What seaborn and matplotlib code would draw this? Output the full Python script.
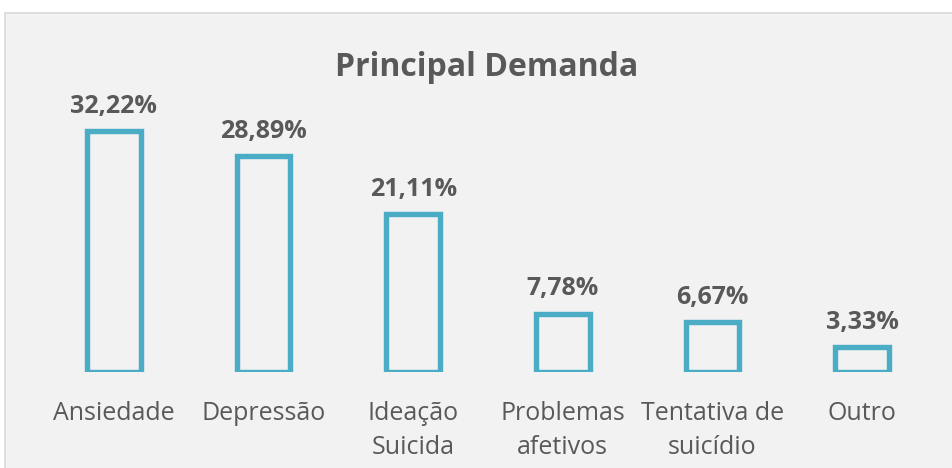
import matplotlib
matplotlib.use("Agg")
import matplotlib.pyplot as plt
import matplotlib.patches as mpatches
import seaborn as sns
import pandas as pd

categorias = ["Ansiedade", "Depressão", "Ideação\nSuicida", "Problemas\nafetivos",
              "Tentativa de\nsuicídio", "Outro"]
valores = [32.22, 28.89, 21.11, 7.78, 6.67, 3.33]
rotulos = ["32,22%", "28,89%", "21,11%", "7,78%", "6,67%", "3,33%"]

sns.set_style("white")
plt.rcParams["font.family"] = ["Open Sans", "DejaVu Sans"]

cor_barra = "#4BACC6"
cor_texto = "#595959"
fundo = "#F2F2F2"

fig = plt.figure(figsize=(9.53, 4.68), dpi=100)
fig.patch.set_facecolor("white")

# moldura cinza do grafico
moldura = mpatches.Rectangle((5 / 953, -0.05), 1.0, 1 - 13 / 468 + 0.05,
                             transform=fig.transFigure, facecolor=fundo,
                             edgecolor="#D9D9D9", linewidth=1.2, zorder=-5)
fig.patches.append(moldura)

ax = fig.add_axes([39 / 953, 1 - 372 / 468, (937 - 39) / 953, (372 - 73) / 468])
ax.set_facecolor("none")
ax.set_zorder(2)

df = pd.DataFrame({"categoria": categorias, "valor": valores})
sns.barplot(data=df, x="categoria", y="valor", ax=ax, fill=False,
            color=cor_barra, width=0.36, linewidth=3.9, errorbar=None)
for p in ax.patches:
    p.set_edgecolor(cor_barra)
    p.set_facecolor(fundo)
    p.set_fill(True)

for i, (v, r) in enumerate(zip(valores, rotulos)):
    ax.annotate(r, (i, v), xytext=(0, 9), textcoords="offset points",
                ha="center", va="bottom", fontsize=18, fontweight="bold",
                color=cor_texto)

ax.set_xlim(-0.5, len(categorias) - 0.5)
ax.set_ylim(0, 40)
ax.set_xlabel("")
ax.set_ylabel("")
ax.set_yticks([])
ax.tick_params(axis="x", length=0, pad=21, labelsize=18, labelcolor=cor_texto)
for lbl in ax.get_xticklabels():
    lbl.set_linespacing(1.45)
for s in ax.spines.values():
    s.set_visible(False)

fig.text(487 / 953, 1 - 68 / 468, "Principal Demanda", ha="center", va="center",
         fontsize=23, fontweight="bold", color=cor_texto, zorder=3)

fig.savefig("out.png", dpi=100)
